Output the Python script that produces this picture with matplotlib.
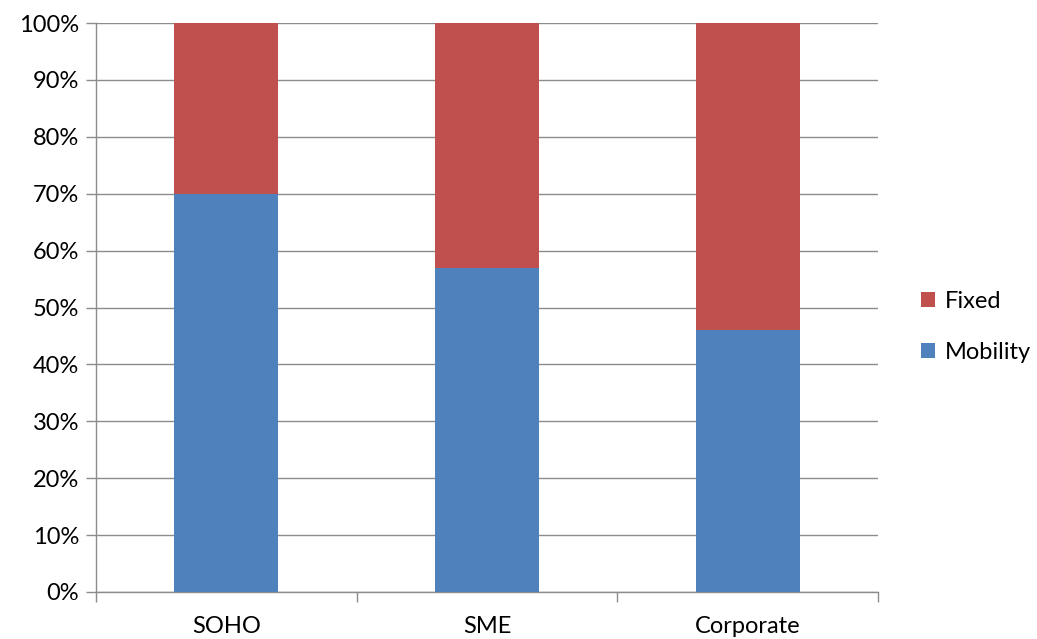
import numpy as np
import matplotlib.pyplot as plt
from matplotlib.ticker import FixedLocator, PercentFormatter

categories = ["SOHO", "SME", "Corporate"]
mobility = [70, 57, 46]
fixed = [30, 43, 54]

plt.rcParams['font.family'] = ['Lato', 'DejaVu Sans']

fig = plt.figure(figsize=(10.37, 6.39), dpi=100)
ax = fig.add_axes([96/1037, 1 - 592/639, (878-96)/1037, (592-23)/639])

x = np.arange(len(categories))
b1 = ax.bar(x, mobility, width=0.40, color="#4F81BD", zorder=3, label="Mobility")
b2 = ax.bar(x, fixed, width=0.40, bottom=mobility, color="#C0504D", zorder=3, label="Fixed")

ax.set_xlim(-0.5, len(categories) - 0.5)
ax.set_ylim(0, 100)
ax.set_yticks(np.arange(0, 101, 10))
ax.yaxis.set_major_formatter(PercentFormatter(decimals=0))
ax.yaxis.grid(True, color="#8C8C8C", linewidth=1, zorder=0)

ax.set_xticks(x)
ax.set_xticklabels(categories)
ax.tick_params(axis="x", length=0, pad=17, labelsize=17)
ax.xaxis.set_minor_locator(FixedLocator(np.arange(-0.5, len(categories), 1)))
ax.tick_params(axis="x", which="minor", length=7, width=1, color="#8C8C8C")
ax.tick_params(axis="y", length=7, width=1, color="#8C8C8C", labelsize=17, pad=5)

for s in ["top", "right"]:
    ax.spines[s].set_visible(False)
for s in ["left", "bottom"]:
    ax.spines[s].set_color("#8C8C8C")
    ax.spines[s].set_linewidth(1)

ax.legend([b2, b1], ["Fixed", "Mobility"], loc="center left", bbox_to_anchor=(1.028, 0.466),
          frameon=False, fontsize=17, handlelength=0.6, handleheight=0.6,
          handletextpad=0.4, labelspacing=1.25)

fig.savefig("out.png", dpi=100)
